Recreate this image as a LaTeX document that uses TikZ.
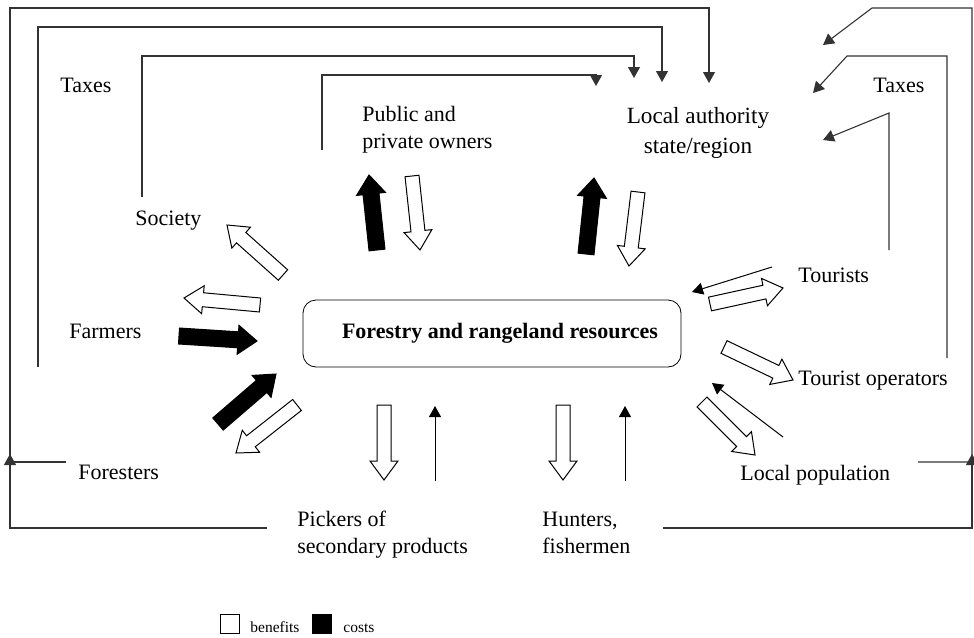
\documentclass[tikz,border=0pt]{standalone}
\usepackage{fontspec}
\setmainfont{Liberation Serif}
\usetikzlibrary{arrows.meta,calc}

\tikzset{
  lbl/.style={font=\fontsize{11}{13.3}\selectfont, inner sep=0pt, align=left},
  lblbig/.style={font=\fontsize{11.6}{15}\selectfont, inner sep=0pt, align=center},
  legtext/.style={font=\fontsize{7.75}{9}\selectfont, inner sep=0pt},
  flowline/.style={draw=black!80, line width=0.55pt, -{Triangle[length=5.5pt,width=6pt]}},
  thinarrow/.style={draw=black, line width=0.5pt, -{Triangle[length=5.5pt,width=6pt]}},
  benefit/.style={draw=black, fill=white, line width=0.5pt},
  cost/.style={draw=black, fill=black, line width=0.5pt},
  legbox/.style={draw=black, line width=0.5pt, minimum size=9.5pt, inner sep=0pt},
}

% block arrow: style, tail, tip, half shaft width, half head width
\newcommand\fatarrow[5]{%
  \coordinate (fa-b) at ($(#3)!9.5pt!(#2)$);
  \draw[#1] ($(#2)!#4!90:(#3)$) -- ($(fa-b)!#4!90:(#3)$) -- ($(fa-b)!#5!90:(#3)$)
    -- (#3) -- ($(fa-b)!#5!-90:(#3)$) -- ($(fa-b)!#4!-90:(#3)$)
    -- ($(#2)!#4!-90:(#3)$) -- cycle;
}

\begin{document}
\begin{tikzpicture}[x=0.5pt,y=-0.5pt]
\useasboundingbox (0,0) rectangle (974,637);

% central resource box
\node[draw, rounded corners=6.5pt, minimum width=189pt, minimum height=33.5pt,
      inner sep=0pt, font=\fontsize{11}{13}\selectfont\bfseries]
      (res) at (492,333.5) {\hspace*{8pt}Forestry and rangeland resources};

% actors (multi-line labels are placed by the baseline of their last line)
\node[lbl, anchor=base west] (taxL) at (60,92) {Taxes};
\node[lbl, anchor=base west] (taxR) at (873,92) {Taxes};
\node[lbl, anchor=base west] (soc) at (135,225) {Society};
\node[lbl, anchor=base west] (pub) at (362,148) {Public and\\private owners};
\node[lblbig, anchor=base] (loc) at (698,153) {Local authority\\state/region};
\node[lbl, anchor=base west] (tou) at (798,282) {Tourists};
\node[lbl, anchor=base west] (touop) at (798,385) {Tourist operators};
\node[lbl, anchor=base west] (pop) at (740,480) {Local population};
\node[lbl, anchor=base west] (for) at (78,479) {Foresters};
\node[lbl, anchor=base west] (far) at (69,338) {Farmers};
\node[lbl, anchor=base west] (pick) at (297,553) {Pickers of\\secondary products};
\node[lbl, anchor=base west] (hunt) at (542,553) {Hunters,\\fishermen};

% tax flows on the left
\coordinate (fo1) at (66,462);  \coordinate (fo2) at (10,462);
\coordinate (fo3) at (10,8);    \coordinate (fo4) at (709,8);
\coordinate (fo5) at (709,83);
\draw[flowline] (fo1) -- (fo2) -- (fo3) -- (fo4) -- (fo5);

\coordinate (pk1) at (267,528); \coordinate (pk2) at (10,528);
\coordinate (pk3) at (10,454);
\draw[flowline] (pk1) -- (pk2) -- (pk3);

\coordinate (fa1) at (38,367);  \coordinate (fa2) at (38,27);
\coordinate (fa3) at (662,27);  \coordinate (fa4) at (662,82);
\draw[flowline] (fa1) -- (fa2) -- (fa3) -- (fa4);

\coordinate (so1) at (142,197); \coordinate (so2) at (142,56);
\coordinate (so3) at (634,56);  \coordinate (so4) at (634,78);
\draw[flowline] (so1) -- (so2) -- (so3) -- (so4);

\coordinate (pu1) at (322,150); \coordinate (pu2) at (322,75);
\coordinate (pu3) at (596,75);  \coordinate (pu4) at (596,86);
\draw[flowline] (pu1) -- (pu2) -- (pu3) -- (pu4);

% tax flows on the right
\coordinate (lp1) at (918,462); \coordinate (lp2) at (972,462);
\coordinate (lp3) at (972,8);   \coordinate (lp4) at (872,8);
\coordinate (lp5) at (823,45);
\draw[flowline] (lp1) -- (lp2) -- (lp3) -- (lp4) -- (lp5);

\coordinate (hu1) at (663,528); \coordinate (hu2) at (972,528);
\coordinate (hu3) at (972,454);
\draw[flowline] (hu1) -- (hu2) -- (hu3);

\coordinate (to1) at (947,358); \coordinate (to2) at (947,56);
\coordinate (to3) at (847,56);  \coordinate (to4) at (813,93);
\draw[flowline] (to1) -- (to2) -- (to3) -- (to4);

\coordinate (tu1) at (889,250); \coordinate (tu2) at (889,113);
\coordinate (tu3) at (823,140);
\draw[flowline] (tu1) -- (tu2) -- (tu3);

% block arrows: tail and tip points
\coordinate (socBt) at (283,275);  \coordinate (socBh) at (227,225);
\coordinate (farBt) at (260,305);  \coordinate (farBh) at (184,298);
\coordinate (farCt) at (179,336);  \coordinate (farCh) at (257,341);
\coordinate (forCt) at (218,424);  \coordinate (forCh) at (276,374);
\coordinate (forBt) at (297,405);  \coordinate (forBh) at (236,453);
\coordinate (pubCt) at (377,250);  \coordinate (pubCh) at (369,175);
\coordinate (pubBt) at (412,176);  \coordinate (pubBh) at (420,250);
\coordinate (locCt) at (586,254);  \coordinate (locCh) at (594,178);
\coordinate (locBt) at (638,192);  \coordinate (locBh) at (629,266);
\coordinate (touBt) at (710,304);  \coordinate (touBh) at (783,288);
\coordinate (topBt) at (724,347);  \coordinate (topBh) at (793,380);
\coordinate (popBt) at (702,402);  \coordinate (popBh) at (755,455);
\coordinate (pikBt) at (384,405);  \coordinate (pikBh) at (384,480);
\coordinate (hunBt) at (563,405);  \coordinate (hunBh) at (563,480);

\fatarrow{benefit}{socBt}{socBh}{3.5pt}{7pt}
\fatarrow{benefit}{farBt}{farBh}{3.5pt}{7pt}
\fatarrow{cost}{farCt}{farCh}{4pt}{7.25pt}
\fatarrow{cost}{forCt}{forCh}{4pt}{7.25pt}
\fatarrow{benefit}{forBt}{forBh}{3.5pt}{7pt}
\fatarrow{cost}{pubCt}{pubCh}{4pt}{7.25pt}
\fatarrow{benefit}{pubBt}{pubBh}{3.5pt}{7pt}
\fatarrow{cost}{locCt}{locCh}{4pt}{7.25pt}
\fatarrow{benefit}{locBt}{locBh}{3.5pt}{7pt}
\fatarrow{benefit}{touBt}{touBh}{3.5pt}{7pt}
\fatarrow{benefit}{topBt}{topBh}{3.5pt}{7pt}
\fatarrow{benefit}{popBt}{popBh}{3.5pt}{7pt}
\fatarrow{benefit}{pikBt}{pikBh}{3.5pt}{7pt}
\fatarrow{benefit}{hunBt}{hunBh}{3.5pt}{7pt}

% thin return arrows
\coordinate (touAt) at (772,267);  \coordinate (touAh) at (692,292);
\coordinate (popAt) at (783,437);  \coordinate (popAh) at (712,383);
\coordinate (pikAt) at (435,481);  \coordinate (pikAh) at (435,406);
\coordinate (hunAt) at (625,481);  \coordinate (hunAh) at (625,406);
\draw[thinarrow] (touAt) -- (touAh);
\draw[thinarrow] (popAt) -- (popAh);
\draw[thinarrow] (pikAt) -- (pikAh);
\draw[thinarrow] (hunAt) -- (hunAh);

% legend
\node[legbox, fill=white] (legB) at (230,623.5) {};
\node[legtext, anchor=base west] (legBt) at (250,632) {benefits};
\node[legbox, fill=black] (legC) at (322,623.5) {};
\node[legtext, anchor=base west] (legCt) at (343,632) {costs};
\end{tikzpicture}
\end{document}
